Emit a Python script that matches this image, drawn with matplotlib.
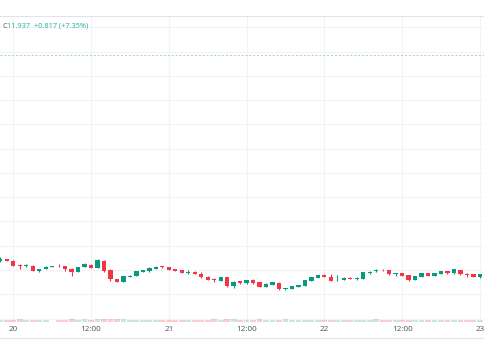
import matplotlib
matplotlib.use("Agg")
import matplotlib.pyplot as plt
from matplotlib.lines import Line2D
import numpy as np

# -----------------------------------------------------------------------------
# Hourly candles, 20 -> 23 (hour offsets from day 20 00:00)
# -----------------------------------------------------------------------------
hours = list(range(-2, 73))

opens = [12.090, 12.113, 12.096, 12.044, 12.041, 12.046, 11.993, 12.013, 12.034, 12.041,
         12.038, 12.015, 11.982, 12.028, 12.052, 12.024, 12.096, 12.005, 11.907, 11.879,
         11.931, 11.938, 11.982, 11.993, 12.010, 12.034, 12.028, 12.007, 11.995, 11.974,
         11.979, 11.962, 11.931, 11.900, 11.890, 11.923, 11.835, 11.882, 11.863, 11.900,
         11.873, 11.825, 11.849, 11.869, 11.801, 11.804, 11.828, 11.835, 11.887, 11.921,
         11.952, 11.933, 11.892, 11.897, 11.921, 11.904, 11.912, 11.974, 11.985, 12.002,
         11.998, 11.961, 11.969, 11.946, 11.902, 11.933, 11.966, 11.943, 11.962, 11.990,
         11.964, 12.002, 11.956, 11.956, 11.925]
highs = [12.134, 12.118, 12.098, 12.062, 12.062, 12.048, 12.013, 12.038, 12.044, 12.059,
         12.041, 12.021, 12.031, 12.067, 12.057, 12.110, 12.100, 12.010, 11.910, 11.943,
         11.945, 11.990, 12.003, 12.028, 12.038, 12.044, 12.031, 12.013, 12.000, 11.995,
         11.985, 11.976, 11.935, 11.915, 11.928, 11.926, 11.884, 11.887, 11.902, 11.907,
         11.876, 11.863, 11.876, 11.873, 11.815, 11.835, 11.846, 11.900, 11.928, 11.952,
         11.956, 11.959, 11.952, 11.925, 11.925, 11.925, 11.979, 11.987, 12.010, 12.007,
         12.000, 11.969, 11.972, 11.949, 11.943, 11.969, 11.969, 11.971, 11.993, 11.993,
         12.012, 12.005, 11.969, 11.959, 11.959]
lows = [12.082, 12.093, 12.041, 12.010, 12.031, 11.990, 11.982, 12.010, 12.031, 12.031,
        11.990, 11.938, 11.979, 12.026, 12.021, 12.021, 11.976, 11.890, 11.876, 11.873,
        11.928, 11.935, 11.979, 11.976, 12.007, 12.018, 11.997, 11.987, 11.966, 11.962,
        11.956, 11.921, 11.894, 11.876, 11.887, 11.825, 11.818, 11.856, 11.856, 11.859,
        11.820, 11.822, 11.846, 11.797, 11.797, 11.801, 11.825, 11.832, 11.884, 11.918,
        11.928, 11.882, 11.890, 11.894, 11.904, 11.900, 11.909, 11.956, 11.981, 11.990,
        11.949, 11.943, 11.938, 11.887, 11.899, 11.930, 11.935, 11.940, 11.959, 11.961,
        11.961, 11.951, 11.928, 11.925, 11.922]
closes = [12.116, 12.096, 12.044, 12.041, 12.048, 11.993, 12.010, 12.034, 12.039, 12.038,
          12.010, 11.982, 12.028, 12.059, 12.024, 12.100, 11.990, 11.907, 11.879, 11.941,
          11.941, 11.987, 12.000, 12.018, 12.031, 12.031, 12.000, 11.990, 11.969, 11.979,
          11.959, 11.925, 11.897, 11.897, 11.923, 11.835, 11.879, 11.861, 11.897, 11.863,
          11.825, 11.859, 11.873, 11.801, 11.811, 11.832, 11.842, 11.897, 11.925, 11.949,
          11.931, 11.885, 11.900, 11.921, 11.907, 11.921, 11.976, 11.981, 12.005, 11.995,
          11.962, 11.965, 11.943, 11.902, 11.940, 11.966, 11.938, 11.967, 11.990, 11.964,
          12.008, 11.954, 11.953, 11.928, 11.956]
volumes = [15, 15, 15, 20, 15, 15, 15, 15, 3, 15,
           15, 20, 15, 20, 15, 21, 22, 22, 19, 19,
           15, 15, 15, 15, 15, 15, 15, 15, 15, 15,
           15, 15, 15, 19, 15, 19, 19, 15, 15, 15,
           19, 15, 15, 15, 19, 15, 15, 15, 15, 15,
           15, 15, 15, 15, 15, 15, 15, 15, 19, 15,
           15, 15, 15, 15, 15, 15, 15, 15, 15, 15,
           15, 15, 15, 15, 15]

tick_hours = [0, 12, 24, 36, 48, 60, 72]
tick_labels = ["20", "12:00", "21", "12:00", "22", "12:00", "23"]
marker_price = 14.21
header_close = "11.937"
header_change = "+0.817 (+7.35%)"

up_color = "#089981"
down_color = "#f23645"
grid_color = "#f2f3f5"
text_color = "#50535e"

plt.rcParams['font.family'] = ['Open Sans', 'DejaVu Sans']

W, H = 485, 360
fig = plt.figure(figsize=(W / 100, H / 100), dpi=100)
ax = fig.add_axes([0, 1 - 322 / H, 1, (322 - 16) / H])

ax.set_xlim(-2.05, 72.79)
ax.set_ylim(11.4644, 14.6162)
ax.set_xticks(tick_hours)
ax.set_xticklabels(tick_labels)
ax.set_yticks(np.arange(11.5, 14.7, 0.25))
ax.set_yticklabels([])
ax.grid(True, color=grid_color, lw=0.8)
ax.set_axisbelow(True)
ax.tick_params(length=0, pad=3, labelsize=5.9, labelcolor=text_color)
for s in ax.spines.values():
    s.set_visible(False)

# -----------------------------------------------------------------------------
# Candles
# -----------------------------------------------------------------------------
o = np.array(opens)
c = np.array(closes)
colors = [up_color if cc >= oo else down_color for oo, cc in zip(o, c)]
ax.vlines(hours, lows, highs, colors=colors, lw=0.8, zorder=3)
body = np.maximum(np.abs(c - o), 0.008)
ax.bar(hours, body, bottom=np.minimum(o, c), width=0.66, color=colors, lw=0, zorder=4)

ax.axhline(marker_price, color="#9fd3c9", lw=0.7, ls=(0, (2, 2)), zorder=2)

# -----------------------------------------------------------------------------
# Volume overlay
# -----------------------------------------------------------------------------
vax = ax.twinx()
vax.set_ylim(0, 2000)
vax.axis("off")
vol_colors = [(8/255, 153/255, 129/255, 0.22) if cc >= oo else (242/255, 54/255, 69/255, 0.25)
              for oo, cc in zip(o, c)]
vax.bar(hours, volumes, width=0.9, color=vol_colors, lw=0)

# header and frame lines
fig.add_artist(Line2D([0, 1], [1 - 16 / H] * 2, color="#e0e3eb", lw=0.8))
fig.add_artist(Line2D([0, 1], [1 - 338 / H] * 2, color="#e0e3eb", lw=0.8))
fig.text(2.5 / W, 1 - 26 / H, "C", color=text_color, fontsize=5.3, va="center")
fig.text(7.3 / W, 1 - 26 / H, header_close + "  " + header_change, color="#22ab94",
         fontsize=5.3, va="center")

fig.savefig("out.png", dpi=100)
